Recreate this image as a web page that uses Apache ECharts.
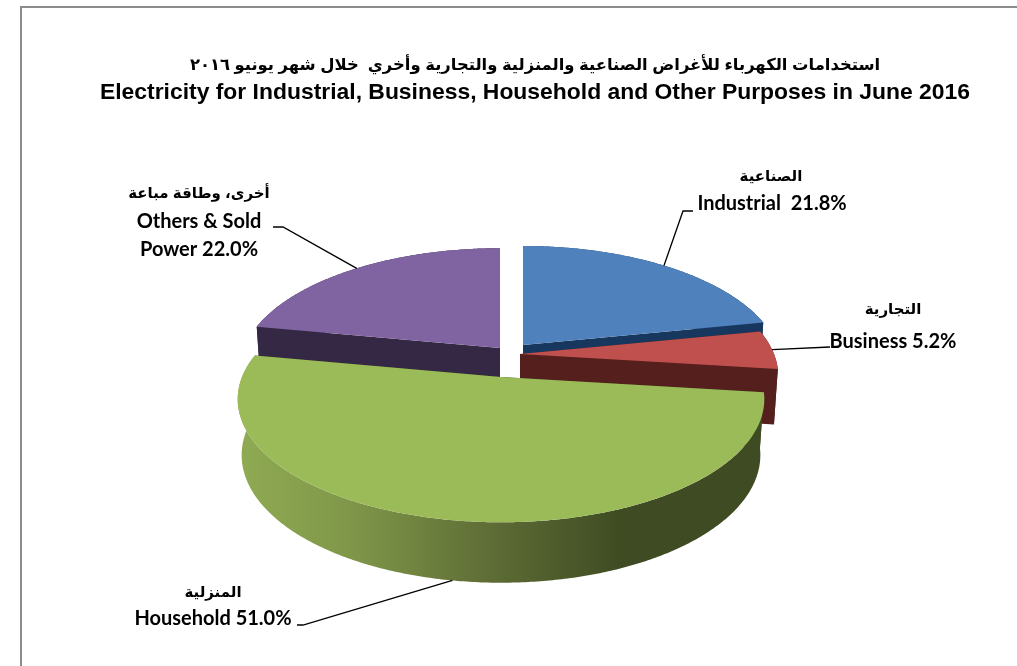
<!DOCTYPE html>
<html>
<head>
<meta charset="utf-8">
<style>
  html, body { margin: 0; padding: 0; background: #fff; }
  #chart { width: 1017px; height: 666px; }
</style>
<script src="https://cdn.jsdelivr.net/npm/echarts@6/dist/echarts.min.js"></script>
</head>
<body>
<div id="chart"></div>
<script>
// data
var categories = ['Industrial', 'Business', 'Household', 'Others'];
var shares = [21.8, 5.2, 51.0, 22.0];
var arabicNames = ['الصناعية', 'التجارية', 'المنزلية', 'أخرى، وطاقة مباعة'];
var titleArabic = 'استخدامات الكهرباء للأغراض الصناعية والمنزلية والتجارية وأخري  خلال شهر يونيو ٢٠١٦';
var titleEnglish = 'Electricity for Industrial, Business, Household and Other Purposes in June 2016';

// look of the slices
var topColors = ['#4f81bd', '#c0504d', '#9bbb59', '#8064a2'];
var sideColors = ['#17375e', '#541f1d', '#3f4c23', '#352845'];
var drawOrder = [1, 2, 3, 0]; // back to front, household last

// 3d layout, each slice is pulled out on its own
var apex = [[523, 345], [520, 354], [501, 377], [500, 348]];
var radius = [254, 254, 259, 256];
var flatten = 0.46;
var persp = 0.18;
var depth = 55;

// where the label text and the leader elbow sit
var labelPos = [
  { ar: [771, 177], en: [[772, 204]], elbow: [[693, 211], [683, 211]], bottom: false },
  { ar: [893, 310], en: [[893, 342]], elbow: [[830, 347]], bottom: false },
  { ar: [213, 593], en: [[213, 619]], elbow: [[297, 625], [303, 625]], bottom: true },
  { ar: [199, 194], en: [[199, 222], [199, 250]], elbow: [[273, 227], [283, 227]], bottom: false }
];

function project(i, ang, r, low) {
  // ang in radians, clockwise from 12 o'clock, r 0..1
  var x = Math.sin(ang) * r;
  var y = -Math.cos(ang) * r;
  var w = 1 - persp * y;
  var sx = radius[i] * x / w;
  var sy = radius[i] * flatten * y / w;
  if (low) {
    sx = sx * 0.985;
    sy = sy + depth / (1 - 0.09 * y);
  }
  return [apex[i][0] + sx, apex[i][1] + sy];
}

function sliceAngles(i) {
  var total = shares.reduce(function (a, b) { return a + b; }, 0);
  var before = 0;
  for (var k = 0; k < i; k++) before += shares[k];
  return [before / total * Math.PI * 2, (before + shares[i]) / total * Math.PI * 2];
}

function arcPoints(i, a0, a1, low) {
  var pts = [];
  var n = Math.max(8, Math.ceil((a1 - a0) / 0.01));
  for (var k = 0; k <= n; k++) {
    pts.push(project(i, a0 + (a1 - a0) * k / n, 1, low));
  }
  return pts;
}

function labelText(i) {
  var pct = shares[i].toFixed(1) + '%';
  if (i === 0) return [categories[i] + '  ' + pct];
  if (i === 3) return ['Others & Sold', 'Power ' + pct];
  return [categories[i] + ' ' + pct];
}

function renderSlice(params, api) {
  var i = params.dataIndex;
  var z = drawOrder[i] * 10;
  var a = sliceAngles(i);
  var top = arcPoints(i, a[0], a[1], false);
  var low = arcPoints(i, a[0], a[1], true);
  var centerTop = project(i, 0, 0, false);
  var centerLow = project(i, 0, 0, true);
  var kids = [];
  var side = sideColors[i];
  var wallFill = side;
  if (i === 2) {
    wallFill = new echarts.graphic.LinearGradient(238, 0, 620, 0, [
      { offset: 0, color: '#8fab52' },
      { offset: 0.3, color: '#7f9649' },
      { offset: 0.65, color: '#5f6e36' },
      { offset: 1, color: '#3f4c23' }
    ], true);
  }
  // the two cut faces
  [0, 1].forEach(function (e) {
    var idx = e === 0 ? 0 : top.length - 1;
    kids.push({
      type: 'polygon', z2: z,
      shape: { points: [centerTop, top[idx], low[idx], centerLow] },
      style: { fill: side }
    });
  });
  // outer wall
  kids.push({
    type: 'polygon', z2: z + 1,
    shape: { points: top.concat(low.slice().reverse()) },
    style: { fill: wallFill }
  });
  // top face
  kids.push({
    type: 'polygon', z2: z + 2,
    shape: { points: [centerTop].concat(top) },
    style: { fill: topColors[i] }
  });

  // leader line from the elbow to the pie edge at mid slice
  var lp = labelPos[i];
  var anchor = project(i, (a[0] + a[1]) / 2, 1, lp.bottom);
  kids.push({
    type: 'polyline', z2: 60,
    shape: { points: lp.elbow.concat([anchor]) },
    style: { fill: null, stroke: '#000', lineWidth: 1.3 }
  });

  // labels
  kids.push({
    type: 'text', z2: 61,
    style: {
      x: lp.ar[0], y: lp.ar[1], text: arabicNames[i], fill: '#000',
      font: 'bold 15px "Liberation Sans", "DejaVu Sans"', align: 'center', verticalAlign: 'middle'
    }
  });
  labelText(i).forEach(function (t, k) {
    kids.push({
      type: 'text', z2: 61,
      style: {
        x: lp.en[k][0], y: lp.en[k][1], text: t, fill: '#000',
        font: 'bold 20px Lato', align: 'center', verticalAlign: 'middle'
      }
    });
  });
  return { type: 'group', children: kids };
}

var chart = echarts.init(document.getElementById('chart'), null, { renderer: 'canvas' });
chart.setOption({
  animation: false,
  backgroundColor: '#fff',
  title: [
    {
      text: titleArabic, left: 530, top: 52, textAlign: 'center',
      textStyle: { fontFamily: '"Liberation Sans", "DejaVu Sans"', fontSize: 16.4, fontWeight: 'bold', color: '#000' }
    },
    {
      text: titleEnglish, left: 530, top: 76, textAlign: 'center',
      textStyle: { fontFamily: '"Liberation Sans"', fontSize: 22.9, fontWeight: 'bold', color: '#000' }
    }
  ],
  graphic: [
    { type: 'polyline', silent: true, shape: { points: [[21, 666], [21, 7], [1017, 7]] }, style: { fill: null, stroke: '#8c8c8c', lineWidth: 2 } }
  ],
  series: [{
    type: 'custom',
    coordinateSystem: 'none',
    silent: true,
    renderItem: renderSlice,
    data: shares
  }]
});
</script>
</body>
</html>
